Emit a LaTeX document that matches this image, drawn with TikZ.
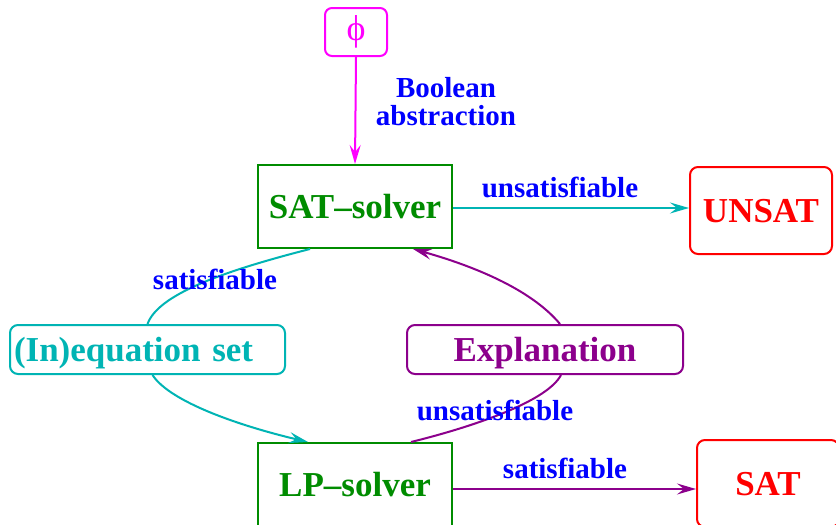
\documentclass[tikz,border=0pt]{standalone}
\usepackage{fontspec}
\setmainfont{Liberation Serif}
\usetikzlibrary{arrows.meta}
\definecolor{cgreen}{RGB}{0,140,0}
\definecolor{ccyan}{RGB}{0,180,180}
\definecolor{cpurple}{RGB}{140,0,140}
\definecolor{cmag}{RGB}{255,0,255}
\definecolor{cblue}{RGB}{0,0,255}
\definecolor{cred}{RGB}{255,0,0}
\tikzset{
  bigtxt/.style={font=\fontsize{35}{40}\selectfont\bfseries, text height=23pt, text depth=0pt},
  lbl/.style={font=\fontsize{29}{28}\selectfont\bfseries, text=cblue, inner sep=0pt},
  solver/.style={draw=cgreen, text=cgreen, line width=2pt, fill=white, minimum width=194pt, minimum height=83pt, bigtxt, inner sep=0pt},
  result/.style={draw=cred, text=cred, line width=2pt, fill=white, rounded corners=8pt, minimum width=142pt, minimum height=87pt, bigtxt, inner sep=0pt},
  setbox/.style={line width=2pt, fill=white, rounded corners=8pt, minimum height=49pt, bigtxt, inner ysep=0pt},
  arr/.style={line width=2pt, -{Stealth[length=19pt,width=11pt,inset=7pt]}},
  ln/.style={line width=2pt},
}
\begin{document}
\begin{tikzpicture}[x=1pt,y=-1pt]
\clip (0,0) rectangle (836,525);
\fill[white] (0,0) rectangle (836,525);
\node[solver] (sat) at (355,206.5) {SAT–solver};
\node[solver] (lp) at (355,484.5) {LP–solver};
\node[result] (unsat) at (761,210.5) {UNSAT};
\node[result] (satr) at (768,483.5) {SAT};
\node[setbox, draw=ccyan, text=ccyan, text width=267pt, align=left, inner xsep=4pt] (ineq) at (147.5,349.5) {(In)equation set};
\node[setbox, draw=cpurple, text=cpurple, minimum width=276pt, inner xsep=0pt] (expl) at (545,349.5) {Explanation};
\node[draw=cmag, text=cmag, line width=2pt, rounded corners=7pt, minimum width=62pt, minimum height=48pt, inner sep=0pt, font=\fontsize{36}{36}\selectfont] (phi) at (356,32) {ϕ};

% connectors
\draw[arr, cmag] (phi.south) -- (sat.north);
\draw[arr, ccyan] ([yshift=-1.5pt]sat.east) -- ([yshift=-1.5pt]sat.east -| unsat.west);
\draw[arr, cpurple] ([yshift=-4.5pt]lp.east) -- ([yshift=-4.5pt]lp.east -| satr.west);

\draw[ln, ccyan] ([xshift=-45pt]sat.south) .. controls (220,272) and (158,295) .. (ineq.north);
\draw[arr, ccyan] ([xshift=5pt]ineq.south) .. controls (170,402) and (240,426) .. ([xshift=-47pt]lp.north);

\draw[ln, cpurple] ([xshift=56pt]lp.north) .. controls (480,425) and (548,400) .. ([xshift=16pt]expl.south);
\draw[arr, cpurple] ([xshift=15pt]expl.north) .. controls (530,288) and (470,265) .. ([xshift=58pt]sat.south);

% labels
\node[lbl, align=center] (lba) at (446,102) {Boolean\\abstraction};
\node[lbl] (lbu1) at (560,187) {unsatisfiable};
\node[lbl] (lbs1) at (215,279) {satisfiable};
\node[lbl] (lbu2) at (495,410) {unsatisfiable};
\node[lbl] (lbs2) at (565,468) {satisfiable};
\end{tikzpicture}
\end{document}
